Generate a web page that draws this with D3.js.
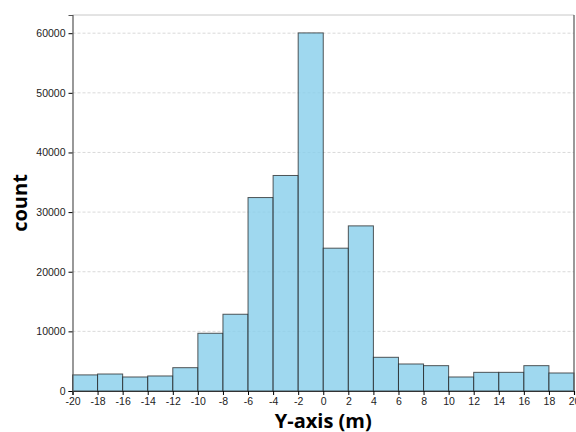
<!DOCTYPE html>
<html lang="en">
  <head>
    <meta charset="UTF-8" />
    <title>Histogram</title>
    <style>
      body {
        margin: 0;
        background: #fff;
        font-family: "Open Sans", "DejaVu Sans", sans-serif;
      }
      .tick text {
        font-size: 10.5px;
        fill: #222;
      }
      .grid line {
        stroke: #d0d0d0;
        stroke-dasharray: 3, 2;
        stroke-width: 0.8px;
      }
      .bar {
        fill: #87ceeb;
        fill-opacity: 0.8;
        stroke: #222;
        stroke-opacity: 0.75;
        stroke-width: 1px;
      }
      .axis-label {
        font-size: 20px;
        font-weight: bold;
        fill: #000;
      }
    </style>
  </head>
  <body>
    <svg width="576" height="432"></svg>

    <script src="https://d3js.org/d3.v7.min.js"></script>
    <script>
      // bin edges (m) and counts per bin
      const binStarts = [-20, -18, -16, -14, -12, -10, -8, -6, -4, -2, 0, 2, 4, 6, 8, 10, 12, 14, 16, 18];
      const binWidth = 2;
      const counts = [2700, 2850, 2350, 2520, 3910, 9680, 12870, 32440, 36140, 60050, 23950, 27690, 5650, 4530, 4250, 2350, 3130, 3130, 4250, 3020];
      const xTicks = [-20, -18, -16, -14, -12, -10, -8, -6, -4, -2, 0, 2, 4, 6, 8, 10, 12, 14, 16, 18, 20];
      const yTicks = [0, 10000, 20000, 30000, 40000, 50000, 60000];

      const margin = { top: 15, right: 2, bottom: 41, left: 72.5 };
      const width = 576 - margin.left - margin.right;
      const height = 432 - margin.top - margin.bottom;

      const svg = d3.select("svg");
      const g = svg.append("g").attr("transform", `translate(${margin.left},${margin.top})`);

      const x = d3.scaleLinear().domain([-20, 20]).range([0, width]);
      const y = d3.scaleLinear().domain([0, d3.max(counts) * 1.05]).range([height, 0]);

      // dashed horizontal grid
      g.append("g")
        .attr("class", "grid")
        .selectAll("line")
        .data(yTicks.slice(1))
        .join("line")
        .attr("x1", 0)
        .attr("x2", width)
        .attr("y1", (d) => y(d))
        .attr("y2", (d) => y(d));

      g.selectAll("rect.bar")
        .data(counts)
        .join("rect")
        .attr("class", "bar")
        .attr("x", (d, i) => x(binStarts[i]))
        .attr("width", (d, i) => x(binStarts[i] + binWidth) - x(binStarts[i]))
        .attr("y", (d) => y(d))
        .attr("height", (d) => height - y(d));

      // frame: light top, dark other sides
      g.append("line").attr("x1", 0).attr("x2", width).attr("y1", 0).attr("y2", 0)
        .attr("stroke", "#c8c8c8").attr("stroke-width", 1);
      g.append("line").attr("x1", width).attr("x2", width).attr("y1", 0).attr("y2", height)
        .attr("stroke", "#555").attr("stroke-width", 1.2);

      const plain = (d) => String(d);

      const xAxis = g.append("g")
        .attr("transform", `translate(0,${height})`)
        .call(d3.axisBottom(x).tickValues(xTicks).tickFormat(plain).tickSize(4).tickPadding(3));
      xAxis.select(".domain").attr("stroke", "#333").attr("stroke-width", 1.2);

      const yAxis = g.append("g")
        .call(d3.axisLeft(y).tickValues(yTicks).tickFormat(plain).tickSize(4).tickPadding(3));
      yAxis.select(".domain").attr("stroke", "#555").attr("stroke-width", 1.2);

      svg.append("text")
        .attr("class", "axis-label")
        .attr("x", margin.left + width / 2)
        .attr("y", 428)
        .attr("text-anchor", "middle")
        .text("Y-axis (m)");

      svg.append("text")
        .attr("class", "axis-label")
        .attr("transform", `translate(27,${margin.top + height / 2}) rotate(-90)`)
        .attr("text-anchor", "middle")
        .text("count");
    </script>
  </body>
</html>
